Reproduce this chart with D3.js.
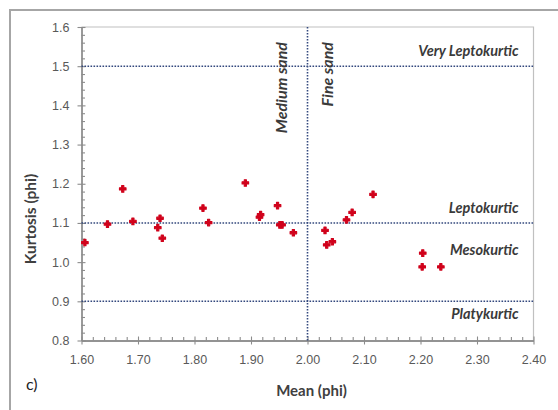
<!DOCTYPE html>
<html>
<head>
<meta charset="utf-8">
<script src="https://cdn.jsdelivr.net/npm/d3@7"></script>
<style>
  html, body { margin: 0; padding: 0; background: #fff; }
  svg { display: block; font-family: Lato, "Open Sans", sans-serif; }
</style>
</head>
<body>
<svg id="chart" width="558" height="410"></svg>
<script>
// Sample grain-size statistics: mean (phi) vs kurtosis (phi)
const meanPhi = [1.606, 1.646, 1.673, 1.691, 1.735, 1.739, 1.743, 1.815, 1.825, 1.890,
                 1.915, 1.917, 1.947, 1.951, 1.955, 1.975, 2.031, 2.034, 2.044, 2.069,
                 2.079, 2.116, 2.204, 2.203, 2.236];
const kurtosisPhi = [1.050, 1.097, 1.187, 1.104, 1.088, 1.112, 1.061, 1.138, 1.101, 1.202,
                     1.115, 1.121, 1.144, 1.095, 1.095, 1.075, 1.081, 1.044, 1.052, 1.108,
                     1.127, 1.173, 1.023, 0.988, 0.988];

// Axis ticks
const xTicks = [1.6, 1.7, 1.8, 1.9, 2.0, 2.1, 2.2, 2.3, 2.4];
const yTicks = [0.8, 0.9, 1.0, 1.1, 1.2, 1.3, 1.4, 1.5, 1.6];

// Kurtosis class boundaries and labels
const kurtBounds = [0.9, 1.1, 1.5];
const kurtClasses = [
  { label: "Very Leptokurtic", y: 1.535 },
  { label: "Leptokurtic", y: 1.135 },
  { label: "Mesokurtic", y: 1.028 },
  { label: "Platykurtic", y: 0.865 }
];
// Sand size boundary (phi)
const sandBound = 2.0;
const sandLabels = ["Medium sand", "Fine sand"];

const svg = d3.select("#chart");

const x = d3.scaleLinear().domain([1.6, 2.4]).range([81.5, 533.5]);
const y = d3.scaleLinear().domain([0.8, 1.6]).range([340.5, 27]);

// Outer frame
svg.append("path")
  .attr("d", "M10,412 L10,10 L560,10")
  .attr("fill", "none").attr("stroke", "#a6a6a6").attr("stroke-width", 2);

// Plot area border (top and right)
svg.append("path")
  .attr("d", `M${x(1.6)},${y(1.6)} L${x(2.4)},${y(1.6)} L${x(2.4)},${y(0.8)}`)
  .attr("fill", "none").attr("stroke", "#c0c0c0").attr("stroke-width", 1.2);

// Minor tick positions every 0.02 between majors
const isMajor = v => Math.abs(Math.round(v * 10) - v * 10) < 0.05;
const xMinor = d3.range(1.62, 2.4, 0.02).filter(v => !isMajor(v));
const yMinor = d3.range(0.82, 1.6, 0.02).filter(v => !isMajor(v));

const axisColor = "#8c8c8c";
const tickText = "#595959";

function styleAxis(g) {
  g.selectAll(".tick line").attr("stroke", axisColor).attr("stroke-width", 1.1);
  g.select(".domain").attr("stroke", axisColor).attr("stroke-width", 1.3);
}

// X axis: minor ticks inward, major ticks crossing the axis
const gxMinor = svg.append("g").attr("transform", `translate(0,${y(0.8)})`)
  .call(d3.axisBottom(x).tickValues(xMinor).tickSize(-3.5).tickSizeOuter(0).tickFormat(""));
styleAxis(gxMinor);
const gx = svg.append("g").attr("transform", `translate(0,${y(0.8)})`)
  .call(d3.axisBottom(x).tickValues(xTicks).tickSize(4).tickSizeOuter(0).tickFormat(d3.format(".2f")));
styleAxis(gx);
gx.selectAll(".tick line").attr("y1", -4).attr("y2", 4);
gx.selectAll("text").attr("fill", tickText).attr("font-size", 12.5)
  .attr("y", 15).attr("dy", "0.71em");

// Y axis
const gyMinor = svg.append("g").attr("transform", `translate(${x(1.6)},0)`)
  .call(d3.axisLeft(y).tickValues(yMinor).tickSize(-3.5).tickSizeOuter(0).tickFormat(""));
styleAxis(gyMinor);
const gy = svg.append("g").attr("transform", `translate(${x(1.6)},0)`)
  .call(d3.axisLeft(y).tickValues(yTicks).tickSize(4).tickSizeOuter(0).tickFormat(d3.format(".1f")));
styleAxis(gy);
gy.selectAll(".tick line").attr("x1", -4).attr("x2", 4);
gy.selectAll("text").attr("fill", tickText).attr("font-size", 12.5).attr("x", -12);

// Boundary lines
const lineColor = "#34497e";
svg.append("g").selectAll("line").data(kurtBounds).join("line")
  .attr("x1", x(1.6)).attr("x2", x(2.4))
  .attr("y1", d => y(d)).attr("y2", d => y(d))
  .attr("stroke", lineColor).attr("stroke-width", 1.6)
  .attr("stroke-dasharray", "1.6,1.4");
svg.append("line")
  .attr("x1", x(sandBound)).attr("x2", x(sandBound))
  .attr("y1", y(1.6)).attr("y2", y(0.8))
  .attr("stroke", lineColor).attr("stroke-width", 1.6)
  .attr("stroke-dasharray", "1.6,1.4");

// Class labels
const labelColor = "#3a3a3a";
svg.append("g").selectAll("text").data(kurtClasses).join("text")
  .attr("x", x(2.4) - 15).attr("y", d => y(d.y))
  .attr("text-anchor", "end").attr("dominant-baseline", "middle")
  .attr("font-size", 14.5).attr("font-weight", "bold").attr("font-style", "italic")
  .attr("fill", labelColor).text(d => d.label);

svg.append("g").selectAll("text").data(sandLabels).join("text")
  .attr("transform", (d, i) => `translate(${x(sandBound) + (i === 0 ? -25 : 21)},${y(1.6) + 15}) rotate(-90)`)
  .attr("text-anchor", "end").attr("dominant-baseline", "middle")
  .attr("font-size", 16).attr("font-weight", "bold").attr("font-style", "italic")
  .attr("fill", labelColor).text(d => d);

// Data points
svg.append("g").selectAll("path").data(meanPhi).join("path")
  .attr("transform", (d, i) => `translate(${x(d)},${y(kurtosisPhi[i])})`)
  .attr("d", d3.symbol().type(d3.symbolCross).size(24))
  .attr("fill", "#d0021b").attr("stroke", "#d0021b").attr("stroke-width", 1.1)
  .attr("stroke-linejoin", "round");

// Axis titles
svg.append("text")
  .attr("x", (x(1.6) + x(2.4)) / 2 + 4).attr("y", 392)
  .attr("text-anchor", "middle").attr("dominant-baseline", "middle")
  .attr("font-size", 15).attr("font-weight", "bold").attr("fill", "#404040")
  .text("Mean (phi)");
svg.append("text")
  .attr("transform", "translate(32,219) rotate(-90)")
  .attr("text-anchor", "middle").attr("dominant-baseline", "middle")
  .attr("font-size", 15.5).attr("font-weight", "bold").attr("fill", "#404040")
  .text("Kurtosis (phi)");

// Panel letter
svg.append("text")
  .attr("x", 26).attr("y", 386)
  .attr("dominant-baseline", "middle")
  .attr("font-size", 16).attr("fill", "#222")
  .text("c)");
</script>
</body>
</html>
